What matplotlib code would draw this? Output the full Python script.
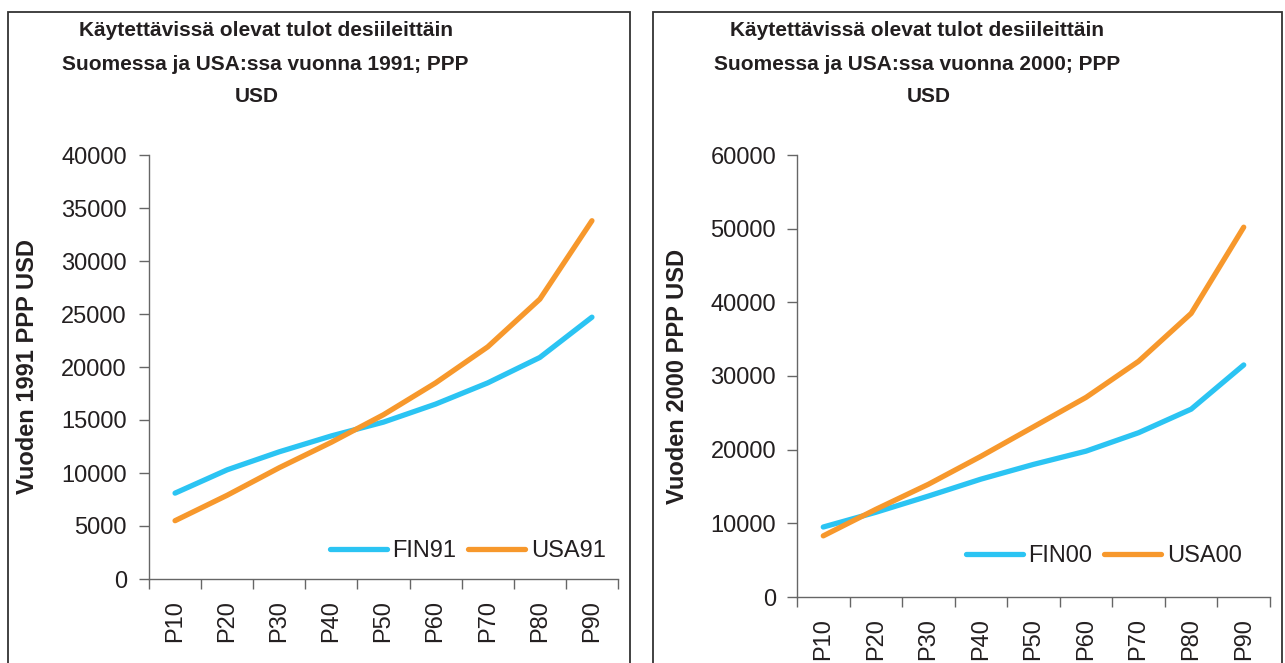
import matplotlib.pyplot as plt
from matplotlib.patches import Rectangle

plt.rcParams['font.family'] = ['Liberation Sans', 'DejaVu Sans']

# DATA
deciles = ['P10', 'P20', 'P30', 'P40', 'P50', 'P60', 'P70', 'P80', 'P90']
fin91 = [8100, 10300, 12000, 13500, 14800, 16500, 18500, 20900, 24700]
usa91 = [5500, 7900, 10500, 12900, 15500, 18500, 21900, 26400, 33800]
fin00 = [9500, 11500, 13700, 16000, 18000, 19800, 22300, 25500, 31500]
usa00 = [8300, 11900, 15300, 19100, 23100, 27100, 32000, 38500, 50200]

W, H = 1285, 663
CYAN = '#2BC4F3'
ORANGE = '#F7982C'
TXT = '#231F20'

fig = plt.figure(figsize=(W / 100, H / 100), dpi=100)

def fx(px):
    return px / W

def fy(py):
    return 1 - py / H

# panel frames
for x0, x1 in [(8, 630), (653, 1282)]:
    fig.patches.append(Rectangle((fx(x0), fy(700)), fx(x1 - x0), (700 - 12) / H,
                                 transform=fig.transFigure, fill=False,
                                 edgecolor='#333333', lw=1.3))

def panel(rect, a, b, la, lb, ymax, ystep, ylabel, ylab_x, title_lines, leg_xy, ypad):
    ax = fig.add_axes(rect)
    x = list(range(len(deciles)))
    ax.plot(x, a, color=CYAN, lw=3.8, solid_capstyle='round', label=la)
    ax.plot(x, b, color=ORANGE, lw=3.8, solid_capstyle='round', label=lb)
    ax.set_xlim(-0.5, len(deciles) - 0.5)
    ax.set_ylim(0, ymax)
    ax.set_yticks(range(0, ymax + 1, ystep))
    ax.set_xticks([i - 0.5 for i in range(len(deciles) + 1)])
    ax.set_xticklabels([])
    ax.set_xticks(x, minor=True)
    ax.set_xticklabels(deciles, minor=True, rotation=90, fontsize=17, color=TXT)
    ax.tick_params(axis='x', which='major', length=7, color='#666666', width=1)
    ax.tick_params(axis='x', which='minor', length=0, pad=15)
    ax.tick_params(axis='y', length=7, color='#666666', width=1, labelsize=17,
                   labelcolor=TXT, pad=ypad)
    for s in ['top', 'right']:
        ax.spines[s].set_visible(False)
    for s in ['left', 'bottom']:
        ax.spines[s].set_color('#666666')
        ax.spines[s].set_linewidth(1)
    ax.set_facecolor('none')
    fig.text(fx(ylab_x), (rect[1] + rect[1] + rect[3]) / 2 + 0.0, ylabel, rotation=90,
             ha='center', va='center', fontsize=17, fontweight='bold', color=TXT)
    for (tx, ty, t) in title_lines:
        fig.text(fx(tx), fy(ty), t, ha='center', va='center', fontsize=15,
                 fontweight='bold', color=TXT)
    ax.legend(loc='center left', bbox_to_anchor=(fx(leg_xy[0]), fy(leg_xy[1])),
              bbox_transform=fig.transFigure, ncol=2, frameon=False, fontsize=17,
              handlelength=2.4, handletextpad=0.25, columnspacing=0.5,
              borderpad=0, borderaxespad=0, labelcolor=TXT)
    return ax

panel([fx(149), fy(579), fx(618 - 149), (579 - 155) / H], fin91, usa91, 'FIN91', 'USA91',
      40000, 5000, 'Vuoden 1991 PPP USD', 28,
      [(266, 30, 'Käytettävissä olevat tulot desiileittäin'),
       (265, 64, 'Suomessa ja USA:ssa vuonna 1991; PPP'),
       (257, 97, 'USD')],
      (330, 551), 9)

panel([fx(797), fy(597), fx(1270 - 797), (597 - 155) / H], fin00, usa00, 'FIN00', 'USA00',
      60000, 10000, 'Vuoden 2000 PPP USD', 677,
      [(917, 30, 'Käytettävissä olevat tulot desiileittäin'),
       (917, 64, 'Suomessa ja USA:ssa vuonna 2000; PPP'),
       (929, 97, 'USD')],
      (966, 556), 8)

fig.savefig('out.png', dpi=100)
